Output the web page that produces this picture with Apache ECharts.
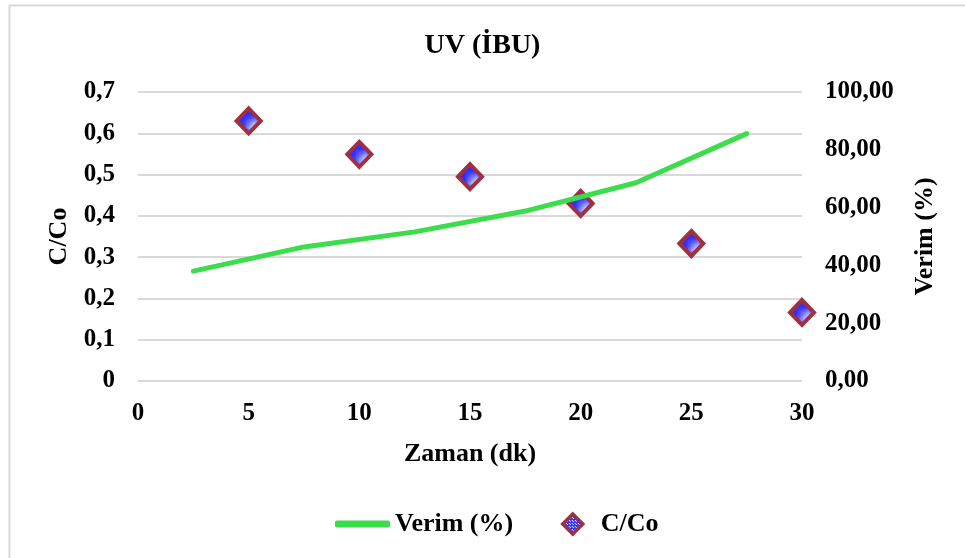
<!DOCTYPE html>
<html>
<head>
<meta charset="utf-8">
<script src="https://cdn.jsdelivr.net/npm/echarts@6/dist/echarts.min.js"></script>
<style>html,body{margin:0;padding:0;background:#fff;}#c{width:965px;height:558px;}</style>
</head>
<body>
<div id="c"></div>
<script>
const timeCC = [5, 10, 15, 20, 25, 30];
const ccValues = [0.630, 0.549, 0.495, 0.430, 0.333, 0.166];
const timeVerim = [2.5, 7.5, 12.5, 17.5, 22.5, 27.5];
const verimValues = [38.0, 46.4, 51.6, 58.8, 68.6, 85.6];

const FONT = '"Liberation Serif", "Times New Roman", serif';

// checkered blue/white fill pattern for diamonds
const pc = document.createElement('canvas');
pc.width = 3; pc.height = 3;
const pctx = pc.getContext('2d');
pctx.fillStyle = '#2f2fff'; pctx.fillRect(0,0,3,3);
pctx.fillStyle = '#ffffff';
pctx.fillRect(1,1,1,1); pctx.fillRect(0,0,1,1);
const pattern = {image: pc, repeat: 'repeat'};

const chart = echarts.init(document.getElementById('c'), null, {renderer: 'canvas'});
const txt = {fontFamily: FONT, fontWeight: 'bold', color: '#000'};
chart.setOption({
  animation: false,
  backgroundColor: '#fff',
  graphic: [{type: 'rect', shape: {x: 9.5, y: 5.5, width: 1000, height: 600}, style: {fill: 'none', stroke: '#d9d9d9', lineWidth: 2}, z: -1}],
  title: {text: 'UV (İBU)', left: 'center', top: 27, textStyle: Object.assign({fontSize: 28}, txt)},
  grid: {left: 138, right: 163, top: 92, height: 289},
  legend: [{
    left: 330, top: 506, itemWidth: 55, itemHeight: 7, icon: 'roundRect',
    textStyle: Object.assign({fontSize: 26}, txt),
    itemStyle: {color: '#3ddc4c', borderWidth: 0},
    data: [{name: 'Verim (%)'}]
  }, {
    left: 556, top: 506, itemWidth: 20, itemHeight: 20, icon: 'diamond',
    textStyle: Object.assign({fontSize: 26}, txt),
    formatter: n => '  ' + n,
    itemStyle: {borderWidth: 3.5},
    data: [{name: 'C/Co'}]
  }],
  xAxis: {
    type: 'value', min: 0, max: 30, interval: 5,
    name: 'Zaman (dk)', nameLocation: 'middle', nameGap: 60,
    nameTextStyle: Object.assign({fontSize: 26}, txt),
    axisLine: {show: false}, axisTick: {show: false}, splitLine: {show: false},
    axisLabel: Object.assign({fontSize: 25, margin: 20}, txt)
  },
  yAxis: [{
    type: 'value', min: 0, max: 0.7, interval: 0.1,
    name: 'C/Co', nameLocation: 'middle', nameGap: 66, nameRotate: 90,
    nameTextStyle: Object.assign({fontSize: 26}, txt),
    axisLine: {show: false}, axisTick: {show: false},
    splitLine: {lineStyle: {color: '#d9d9d9', width: 2}},
    axisLabel: Object.assign({fontSize: 25, margin: 23, formatter: v => v === 0 ? '0' : v.toFixed(1).replace('.', ',')}, txt)
  }, {
    type: 'value', min: 0, max: 100, interval: 20, position: 'right',
    name: 'Verim (%)', nameLocation: 'middle', nameGap: 110, nameRotate: 90,
    nameTextStyle: Object.assign({fontSize: 26}, txt),
    axisLine: {show: false}, axisTick: {show: false}, splitLine: {show: false},
    axisLabel: Object.assign({fontSize: 25, margin: 23, formatter: v => v.toFixed(2).replace('.', ',')}, txt)
  }],
  series: [{
    name: 'Verim (%)', type: 'line', yAxisIndex: 1,
    data: timeVerim.map((t, i) => [t, verimValues[i]]),
    symbol: 'none', showSymbol: false,
    lineStyle: {color: '#3ddc4c', width: 5, cap: 'round', join: 'round'},
    itemStyle: {color: '#3ddc4c'}
  }, {
    name: 'C/Co', type: 'scatter', yAxisIndex: 0,
    data: timeCC.map((t, i) => [t, ccValues[i]]),
    symbol: 'diamond', symbolSize: [24, 25],
    itemStyle: {color: pattern, borderColor: '#9e3040', borderWidth: 4, opacity: 1}
  }]
});
</script>
</body>
</html>
